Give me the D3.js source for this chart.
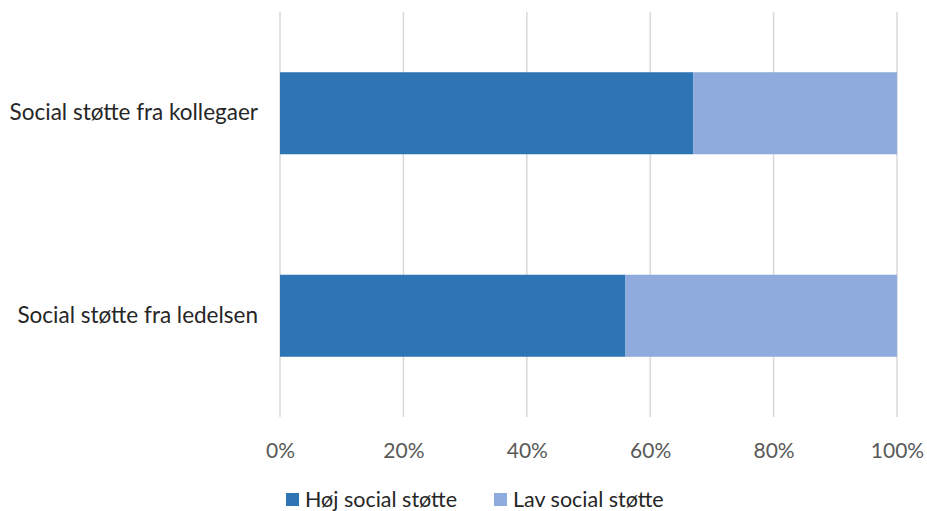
<!DOCTYPE html>
<html>
<head>
<meta charset="utf-8">
<script src="https://cdn.jsdelivr.net/npm/d3@7"></script>
<style>
  html, body { margin: 0; padding: 0; background: #fff; }
  svg { display: block; font-family: Lato, "Open Sans", sans-serif; }
</style>
</head>
<body>
<svg id="chart" width="927" height="511"></svg>
<script>
const categories = ["Social støtte fra kollegaer", "Social støtte fra ledelsen"];
const seriesNames = ["Høj social støtte", "Lav social støtte"];
const hoej = [0.67, 0.56];
const lav = [0.33, 0.44];
const tickValues = [0, 0.2, 0.4, 0.6, 0.8, 1.0];
const colors = ["#2E75B6", "#8FAADC"];

const svg = d3.select("#chart");
const plot = { left: 280, right: 897, top: 12, bottom: 417 };

const x = d3.scaleLinear().domain([0, 1]).range([plot.left, plot.right]);
const y = d3.scaleBand().domain(categories).range([plot.top, plot.bottom]).paddingInner(0.595).paddingOuter(0.2975);

// vertical gridlines
svg.append("g").selectAll("line").data(tickValues).join("line")
  .attr("x1", d => x(d)).attr("x2", d => x(d))
  .attr("y1", plot.top).attr("y2", plot.bottom)
  .attr("stroke", "#d9d9d9").attr("stroke-width", 1.5);

// stacked bars
const rows = categories.map((c, i) => ({ cat: c, hoej: hoej[i], lav: lav[i] }));
const stack = d3.stack().keys(["hoej", "lav"])(rows);
svg.append("g").selectAll("g").data(stack).join("g")
  .attr("fill", (d, i) => colors[i])
  .selectAll("rect").data(d => d).join("rect")
  .attr("x", d => x(d[0]))
  .attr("width", d => x(d[1]) - x(d[0]))
  .attr("y", d => y(d.data.cat))
  .attr("height", y.bandwidth());

// x axis tick labels
const xAxis = d3.axisBottom(x).tickValues(tickValues).tickFormat(d3.format(".0%")).tickSize(0).tickPadding(0);
const gx = svg.append("g").attr("transform", `translate(0, 450)`).call(xAxis);
gx.select(".domain").remove();
gx.selectAll("text").attr("font-size", 21).attr("fill", "#595959")
  .attr("font-family", "Lato, sans-serif").attr("dy", "0.36em");

// category labels
const yAxis = d3.axisLeft(y).tickSize(0).tickPadding(22);
const gy = svg.append("g").attr("transform", `translate(${plot.left}, 0)`).call(yAxis);
gy.select(".domain").remove();
gy.selectAll("text").attr("font-size", 22.5).attr("fill", "#262626")
  .attr("font-family", "Lato, sans-serif");

// legend
const legendX = [286, 494];
const lg = svg.append("g").selectAll("g").data(seriesNames).join("g")
  .attr("transform", (d, i) => `translate(${legendX[i]}, 493)`);
lg.append("rect").attr("width", 13).attr("height", 13).attr("fill", (d, i) => colors[i]);
lg.append("text").attr("x", 19).attr("y", 6.5).attr("dy", "0.36em")
  .attr("font-size", 21.5).attr("fill", "#262626").text(d => d);
</script>
</body>
</html>
